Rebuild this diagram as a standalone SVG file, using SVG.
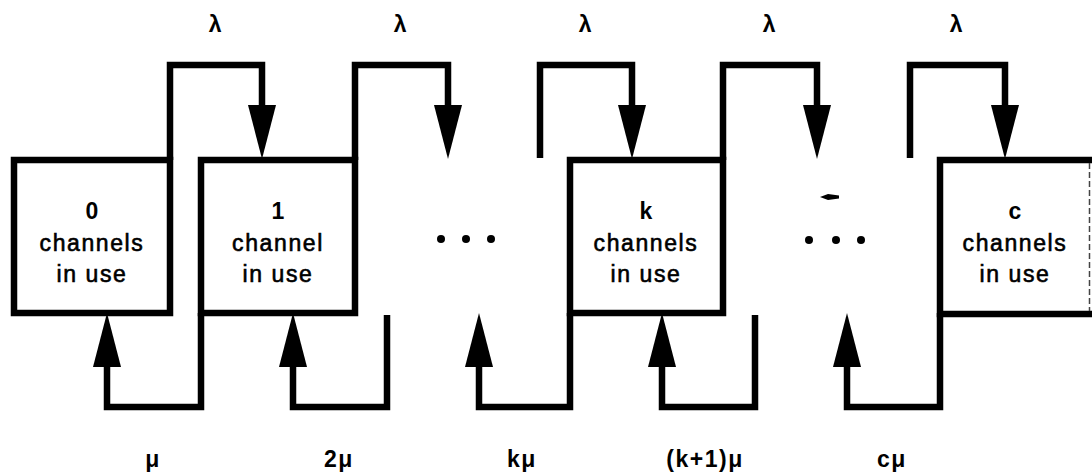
<svg xmlns="http://www.w3.org/2000/svg" xmlns:xlink="http://www.w3.org/1999/xlink" width="1092" height="472" viewBox="0 0 1092 472">
<style>
.box{fill:#fff;stroke:#000;stroke-width:6.5;stroke-linejoin:miter}
.conn{fill:none;stroke:#000;stroke-width:6.5;stroke-linejoin:miter;stroke-linecap:butt}
.ah{fill:#000}
.num{font-family:"Liberation Sans",Arial,sans-serif;font-size:23px;font-weight:bold;text-anchor:middle;fill:#000}
.txt{font-family:"Liberation Sans",Arial,sans-serif;font-size:23px;letter-spacing:1.6px;text-anchor:middle;fill:#000;stroke:#000;stroke-width:0.6px}
.lbl{font-family:"Liberation Sans",Arial,sans-serif;font-size:23px;font-weight:bold;letter-spacing:1.5px;text-anchor:middle;fill:#000}
.dot{fill:#000}
</style>
<defs>
<path id="ahDown" d="M-14,0 L14,0 L0,54 Z"/>
<path id="ahUp" d="M-14,0 L14,0 L0,-54 Z"/>
</defs>
<rect width="1092" height="472" fill="#fff"/>

<g id="connectors">
<path class="conn" d="M170,160 V65 H262 V106"/>
<path class="conn" d="M355,160 V65 H448 V106"/>
<path class="conn" d="M540,158 V65 H632 V106"/>
<path class="conn" d="M723,160 V65 H817 V106"/>
<path class="conn" d="M910,158 V65 H1005 V106"/>
<path class="conn" d="M201,313 V407 H107 V366"/>
<path class="conn" d="M387,315 V407 H293 V366"/>
<path class="conn" d="M570,313 V407 H479 V366"/>
<path class="conn" d="M755,315 V407 H662 V366"/>
<path class="conn" d="M940,313 V407 H847 V366"/>
<use class="ah" xlink:href="#ahDown" x="262" y="105"/>
<use class="ah" xlink:href="#ahDown" x="448" y="105"/>
<use class="ah" xlink:href="#ahDown" x="632" y="105"/>
<use class="ah" xlink:href="#ahDown" x="817" y="105"/>
<use class="ah" xlink:href="#ahDown" x="1005" y="105"/>
<use class="ah" xlink:href="#ahUp" x="107" y="367"/>
<use class="ah" xlink:href="#ahUp" x="293" y="367"/>
<use class="ah" xlink:href="#ahUp" x="479" y="367"/>
<use class="ah" xlink:href="#ahUp" x="662" y="367"/>
<use class="ah" xlink:href="#ahUp" x="847" y="367"/>
</g>

<g id="node-0">
<rect class="box" x="14" y="160" width="156" height="153"/>
<text class="num" x="92" y="219">0</text>
<text class="txt" x="92" y="251">channels</text>
<text class="txt" x="92" y="282">in use</text>
</g>
<g id="node-1">
<rect class="box" x="201" y="160" width="154" height="153"/>
<text class="num" x="278" y="219">1</text>
<text class="txt" x="278" y="251">channel</text>
<text class="txt" x="278" y="282">in use</text>
</g>
<g id="node-k">
<rect class="box" x="570" y="160" width="153" height="153"/>
<text class="num" x="646" y="219">k</text>
<text class="txt" x="646" y="251">channels</text>
<text class="txt" x="646" y="282">in use</text>
</g>
<g id="node-c">
<path d="M1092,160 H940 V314 H1092" fill="#fff" stroke="#000" stroke-width="6.5"/>
<line x1="1089.5" y1="163" x2="1089.5" y2="311" stroke="#444" stroke-width="1.5" stroke-dasharray="6 3"/>
<text class="num" x="1015" y="219">c</text>
<text class="txt" x="1015" y="251">channels</text>
<text class="txt" x="1015" y="282">in use</text>
</g>

<g id="ellipses">
<circle class="dot" cx="441" cy="239" r="4"/>
<circle class="dot" cx="466" cy="239" r="4"/>
<circle class="dot" cx="491" cy="239" r="4"/>
<circle class="dot" cx="809" cy="240" r="4"/>
<circle class="dot" cx="836" cy="240" r="4"/>
<circle class="dot" cx="861" cy="240" r="4"/>
<path d="M820,197 L828,194 L839,195.5 L839,198.5 L828,200 Z" fill="#000"/>
</g>

<g id="rate-labels">
<text class="lbl" x="216" y="32">λ</text>
<text class="lbl" x="401" y="32">λ</text>
<text class="lbl" x="586" y="32">λ</text>
<text class="lbl" x="770" y="32">λ</text>
<text class="lbl" x="957" y="32">λ</text>
<text class="lbl" x="153" y="467">μ</text>
<text class="lbl" x="339" y="467">2μ</text>
<text class="lbl" x="522" y="467">kμ</text>
<text class="lbl" x="705" y="467">(k+1)μ</text>
<text class="lbl" x="892" y="467">cμ</text>
</g>
</svg>
